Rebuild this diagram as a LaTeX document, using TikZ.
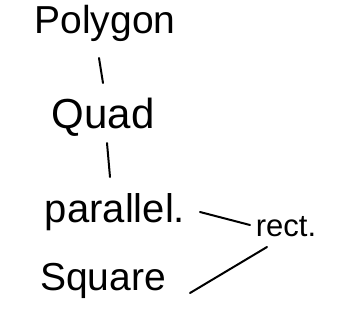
\documentclass[tikz,border=0pt]{standalone}
\usepackage{fontspec}
\setmainfont{Liberation Sans}
\usetikzlibrary{calc}
\begin{document}
\begin{tikzpicture}[x=1pt,y=-1pt,
  lbl/.style={inner sep=0pt,anchor=base},
  link/.style={line width=2pt,line cap=round,black}]
\useasboundingbox (0,0) rectangle (353,333);
\node[lbl,font=\fontsize{39}{42}\selectfont] (polygon) at (105,33) {Polygon};
\node[lbl,font=\fontsize{42}{46}\selectfont] (quad) at (103,128) {Quad};
\node[lbl,font=\fontsize{40}{44}\selectfont] (parallel) at (115,222) {parallel.};
\node[lbl,font=\fontsize{31}{34}\selectfont] (rect) at (286,236) {rect.};
\node[lbl,font=\fontsize{39}{42}\selectfont] (square) at (103,290) {Square};
\draw[link] ($(polygon.base)+(-6,25)$) -- ($(quad.base)+(0,-45)$);
\draw[link] ($(quad.base)+(4,15)$) -- ($(parallel.base)+(-5,-45)$);
\draw[link] ($(parallel.base)+(85,-10)$) -- ($(rect.base)+(-36,-11)$);
\draw[link] ($(rect.base)+(-19,11)$) -- ($(square.base)+(87,3)$);
\end{tikzpicture}
\end{document}
